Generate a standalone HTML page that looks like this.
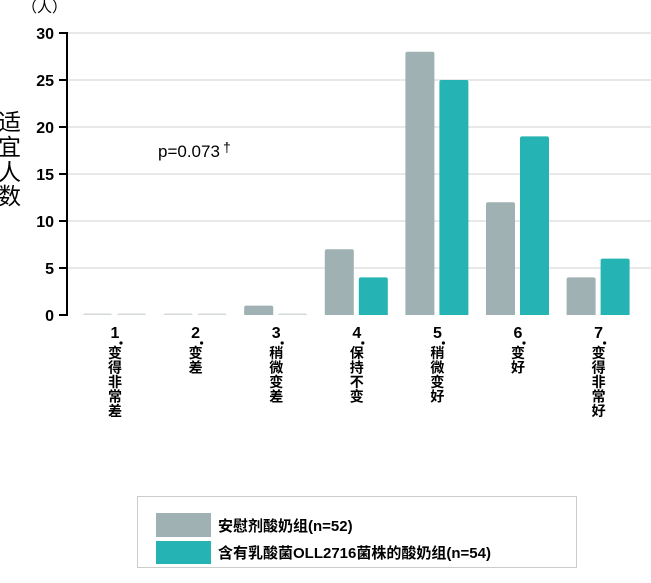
<!DOCTYPE html>
<html><head><meta charset="utf-8"><style>
body{margin:0;background:#fff;width:651px;height:583px;overflow:hidden;font-family:"Liberation Sans","Noto Sans CJK SC",sans-serif}
</style></head><body>
<svg id="chart" width="651" height="583" style="position:absolute;left:0;top:0">
<text x="22" y="12" font-size="15" font-family="Liberation Sans,Noto Sans CJK SC,sans-serif">（人）</text>
<g font-size="23" font-family="Liberation Sans,Noto Sans CJK SC,sans-serif">
<text x="-2" y="130">适</text><text x="-2" y="155">宜</text><text x="-2" y="180">人</text><text x="-2" y="204">数</text></g>
<g id="grid"></g><g id="bars"></g><g id="yticks"></g><g id="xlabels"></g>
<line x1="67" y1="32" x2="67" y2="316" stroke="#000" stroke-width="2"/>
<text x="158" y="157" font-size="17" font-family="Liberation Sans,sans-serif">p=0.073<tspan font-size="14" dy="-5" dx="3">†</tspan></text>
<g>
<rect x="137.5" y="496.5" width="439" height="71" fill="#fff" stroke="#ccc"/>
<rect x="156" y="513" width="55" height="24" fill="#9fb1b2"/>
<text x="218" y="531" font-size="15" font-weight="bold" font-family="Liberation Sans,Noto Sans CJK SC,sans-serif">安慰剂酸奶组(n=52)</text>
<rect x="156" y="541" width="55" height="23" fill="#25b4b3"/>
<text x="218" y="558" font-size="15" font-weight="bold" font-family="Liberation Sans,Noto Sans CJK SC,sans-serif">含有乳酸菌OLL2716菌株的酸奶组(n=54)</text>
</g>
</svg>
<script>
const categories=["1","2","3","4","5","6","7"];
const catLabels=["变得非常差","变差","稍微变差","保持不变","稍微变好","变好","变得非常好"];
const placebo=[0,0,1,7,28,12,4];
const oll=[0,0,0,4,25,19,6];
const yTicks=[0,5,10,15,20,25,30];
const NS="http://www.w3.org/2000/svg";
function y(v){return 315-v*9.4;}
function cx(i){return 114+i*80.6;}
function mk(t,a,p){const e=document.createElementNS(NS,t);for(const k in a)e.setAttribute(k,a[k]);p.appendChild(e);return e;}
const grid=document.getElementById('grid'),yt=document.getElementById('yticks'),bars=document.getElementById('bars'),xl=document.getElementById('xlabels');
yTicks.forEach(v=>{
 if(v>0){const g=mk('line',{x1:68,x2:651,y1:y(v),y2:y(v),stroke:'#d0d0d0','stroke-width':1},grid);
 
 }
 const tk=mk('line',{x1:59,x2:67,y1:y(v),y2:y(v),stroke:'#000','stroke-width':2},yt);
 
 
 const t=mk('text',{x:54,y:y(v)+6,'text-anchor':'end','font-size':16,'font-weight':'bold','font-family':'Liberation Sans,sans-serif'},yt);
 t.textContent=v;
 
 
});
function bar(x,v,col,name){
 const h=Math.max(v*9.4,1.5);
 const r=mk('path',{d:`M${x},315 V${315-h+2} Q${x},${315-h} ${x+2},${315-h} H${x+27} Q${x+29},${315-h} ${x+29},${315-h+2} V315 Z`,fill:col},bars);
 if(v===0){r.setAttribute('fill','#d4d9d9');}
 
 
}
categories.forEach((c,i)=>{
 bar(cx(i)-31,placebo[i],'#9fb1b2','bar-placebo-'+c);
 bar(cx(i)+3,oll[i],'#25b4b3','bar-oll-'+c);
 const g=mk('g',{'font-family':'Liberation Sans,Noto Sans CJK SC,sans-serif','font-weight':'bold','text-anchor':'middle'},xl);
 
 
 const n=mk('text',{x:cx(i)+1,y:338,'font-size':16},g);n.textContent=c;
 mk('circle',{cx:cx(i)+7,cy:343,r:1.6,fill:'#000'},g);
 [...catLabels[i]].forEach((ch,k)=>{const t=mk('text',{x:cx(i)+1,y:358+k*14.5,'font-size':14},g);t.textContent=ch;});
});
</script>
</body></html>
